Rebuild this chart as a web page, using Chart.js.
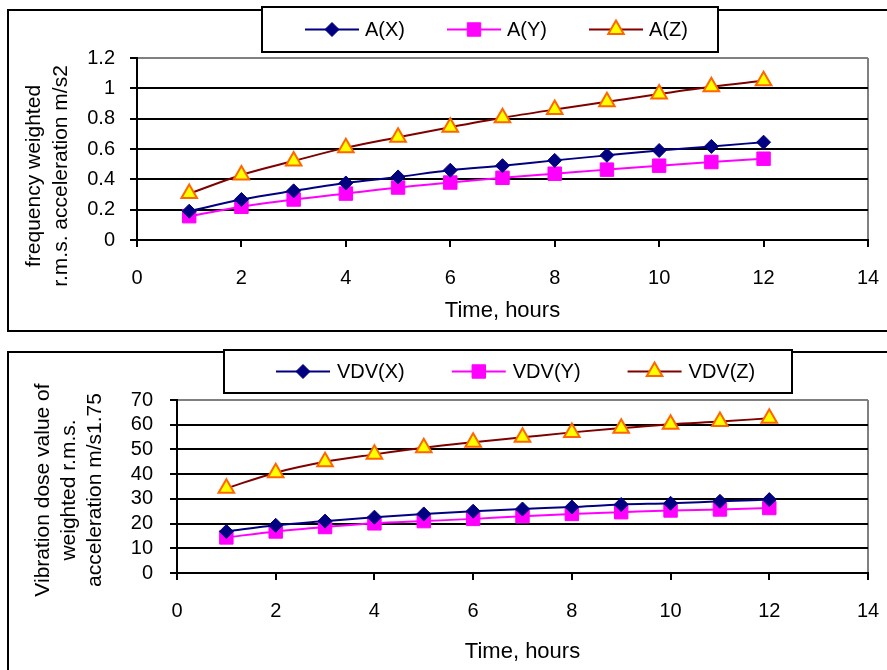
<!DOCTYPE html>
<html><head><meta charset="utf-8">
<script src="https://cdn.jsdelivr.net/npm/chart.js@4.4.1/dist/chart.umd.min.js"></script>
<style>
html,body{margin:0;padding:0;background:#fff;width:887px;height:670px;overflow:hidden;position:relative}
.box{position:absolute;border:2px solid #000;box-sizing:border-box}
canvas{position:absolute;left:0}
</style></head><body>
<div class="box" style="left:7px;top:9px;width:900px;height:323px"></div>
<div class="box" style="left:7px;top:351px;width:900px;height:340px"></div>
<canvas id="c1" width="887" height="335" style="top:0"></canvas>
<canvas id="c2" width="887" height="330" style="top:340px"></canvas>
<script>
// ---- data ----
const hours = [1, 2, 3, 4, 5, 6, 7, 8, 9, 10, 11, 12];
const aX = [0.19, 0.267, 0.324, 0.376, 0.416, 0.46, 0.49, 0.525, 0.558, 0.59, 0.617, 0.645];
const aY = [0.157, 0.219, 0.267, 0.306, 0.346, 0.379, 0.41, 0.437, 0.464, 0.49, 0.514, 0.536];
const aZ = [0.306, 0.429, 0.521, 0.609, 0.678, 0.744, 0.806, 0.86, 0.911, 0.963, 1.011, 1.05];
const vdvX = [16.8, 19.3, 21, 22.6, 23.9, 25, 25.9, 26.7, 27.7, 28.2, 29, 29.7];
const vdvY = [14.4, 16.8, 18.6, 20.1, 21, 21.9, 23, 23.9, 24.6, 25.3, 25.7, 26.3];
const vdvZ = [34.3, 40.6, 45, 48, 50.7, 52.9, 54.9, 56.9, 58.6, 60.2, 61.3, 62.6];
const labelsA = ['A(X)', 'A(Y)', 'A(Z)'];
const labelsV = ['VDV(X)', 'VDV(Y)', 'VDV(Z)'];
const xTitle = 'Time, hours';
const yTitleA = ['frequency weighted', 'r.m.s. acceleration m/s2'];
const yTitleV = ['Vibration dose value of', 'weighted r.m.s.', 'acceleration m/s1.75'];

const FONT = "'Liberation Sans', Arial, sans-serif";

function pts(vals) { return hours.map((h, i) => ({x: h, y: vals[i]})); }

const styles = [
  {borderColor: '#000080', pointStyle: 'rectRot', pointRadius: 7, pointBackgroundColor: '#000080', pointBorderColor: '#000080', pointBorderWidth: 1},
  {borderColor: '#FF00FF', pointStyle: 'rect', pointRadius: 9.5, pointBackgroundColor: '#FF00FF', pointBorderColor: '#FF00FF', pointBorderWidth: 1},
  {borderColor: '#800000', pointStyle: 'triangle', pointRadius: 9, pointBackgroundColor: '#FFFF00', pointBorderColor: '#FF6600', pointBorderWidth: 2}
];

function makeDatasets(labels, series) {
  return series.map((s, i) => Object.assign({
    label: labels[i], data: pts(s), borderWidth: 2, cubicInterpolationMode: 'monotone',
    fill: false, pointHoverRadius: styles[i].pointRadius
  }, styles[i]));
}

function marker(ctx, d, x, y) {
  const r = d.pointRadius;
  ctx.save();
  ctx.fillStyle = d.pointBackgroundColor; ctx.strokeStyle = d.pointBorderColor; ctx.lineWidth = d.pointBorderWidth;
  ctx.beginPath();
  if (d.pointStyle === 'rectRot') {
    ctx.moveTo(x, y - r); ctx.lineTo(x + r, y); ctx.lineTo(x, y + r); ctx.lineTo(x - r, y);
  } else if (d.pointStyle === 'rect') {
    const s = r * Math.SQRT1_2; ctx.rect(x - s, y - s, 2 * s, 2 * s);
  } else {
    for (let k = 0; k < 3; k++) {
      const a = -Math.PI / 2 + k * 2 * Math.PI / 3;
      const px = x + Math.cos(a) * r, py = y + Math.sin(a) * r;
      k ? ctx.lineTo(px, py) : ctx.moveTo(px, py);
    }
  }
  ctx.closePath(); ctx.fill(); ctx.stroke();
  ctx.restore();
}

const boxLegend = {
  id: 'boxLegend',
  afterDraw(chart, args, o) {
    const ctx = chart.ctx;
    ctx.save();
    ctx.fillStyle = '#fff'; ctx.fillRect(o.x, o.y, o.w, o.h);
    ctx.lineWidth = 2; ctx.strokeStyle = '#000'; ctx.strokeRect(o.x, o.y, o.w, o.h);
    ctx.font = o.size + 'px ' + FONT;
    const ds = chart.data.datasets;
    let cx = o.start;
    const cy = o.y + o.h / 2;
    ds.forEach((d, i) => {
      ctx.strokeStyle = d.borderColor; ctx.lineWidth = 2;
      ctx.beginPath(); ctx.moveTo(cx, cy); ctx.lineTo(cx + o.sample, cy); ctx.stroke();
      marker(ctx, d, cx + o.sample / 2, cy);
      ctx.fillStyle = '#000'; ctx.textAlign = 'left'; ctx.textBaseline = 'middle';
      ctx.fillText(d.label, cx + o.sample + o.textGap, cy + 1);
      cx += o.sample + o.textGap + ctx.measureText(d.label).width + o.itemGap;
    });
    ctx.restore();
  }
};

const yTitlePlugin = {
  id: 'yTitle',
  afterDraw(chart, args, o) {
    const ctx = chart.ctx;
    ctx.save();
    ctx.translate(o.x, o.y); ctx.rotate(-Math.PI / 2);
    ctx.font = o.size + 'px ' + FONT; ctx.fillStyle = '#000';
    ctx.textAlign = 'center'; ctx.textBaseline = 'middle';
    const n = o.lines.length;
    o.lines.forEach((t, i) => ctx.fillText(t, 0, (i - (n - 1) / 2) * o.lineHeight));
    ctx.restore();
  }
};

function makeChart(id, labels, series, yMax, yStep, cfg) {
  return new Chart(document.getElementById(id), {
    type: 'line',
    data: {datasets: makeDatasets(labels, series)},
    plugins: [boxLegend, yTitlePlugin],
    options: {
      responsive: false, animation: false, devicePixelRatio: 1,
      layout: {padding: {top: cfg.top, right: 19, left: 0, bottom: 0}},
      events: [],
      plugins: {
        legend: {display: false}, tooltip: {enabled: false},
        boxLegend: cfg.legend,
        yTitle: cfg.yTitle
      },
      scales: {
        x: {
          type: 'linear', min: 0, max: 14,
          ticks: {stepSize: 2, color: '#000', font: {family: FONT, size: 20}, padding: cfg.xPad, maxRotation: 0, autoSkip: false},
          grid: {drawOnChartArea: true, lineWidth: 2, tickLength: 7, tickWidth: 2, tickColor: '#000',
                 color: c => (c.tick && c.tick.value === 14) ? '#808080' : 'rgba(0,0,0,0)'},
          border: {display: true, color: '#000', width: 2},
          title: {display: true, text: xTitle, color: '#000', font: {family: FONT, size: 22}, padding: {top: 0, bottom: cfg.titlePad}},
          afterFit: s => { s.height = cfg.xHeight; s.paddingLeft = 0; s.paddingRight = 0; }
        },
        y: {
          min: 0, max: yMax,
          ticks: {stepSize: yStep, color: '#000', font: {family: FONT, size: 20}, padding: cfg.yPad, autoSkip: false,
                  callback: v => String(+Number(v).toFixed(2))},
          grid: {lineWidth: 2, tickLength: 7, tickWidth: 2, tickColor: '#000',
                 color: c => (c.tick && Math.abs(c.tick.value - yMax) < 1e-9) ? '#808080' : '#000'},
          border: {display: true, color: '#000', width: 2},
          afterFit: s => { s.width = cfg.yWidth; }
        }
      }
    }
  });
}

makeChart('c1', labelsA, [aX, aY, aZ], 1.2, 0.2, {
  top: 58, yWidth: 137, xHeight: 95, xPad: 19, yPad: 15, titlePad: 11,
  legend: {x: 262, y: 7, w: 456, h: 45, size: 20, start: 305, sample: 54, textGap: 6, itemGap: 42},
  yTitle: {x: 48, y: 176, size: 21, lineHeight: 27, lines: yTitleA}
});
makeChart('c2', labelsV, [vdvX, vdvY, vdvZ], 70, 10, {
  top: 60, yWidth: 177, xHeight: 97, xPad: 19, yPad: 17, titlePad: 5,
  legend: {x: 224, y: 10, w: 568, h: 43, size: 20, start: 276, sample: 54, textGap: 7, itemGap: 47},
  yTitle: {x: 69, y: 150, size: 21, lineHeight: 26, lines: yTitleV}
});
</script>
</body></html>
